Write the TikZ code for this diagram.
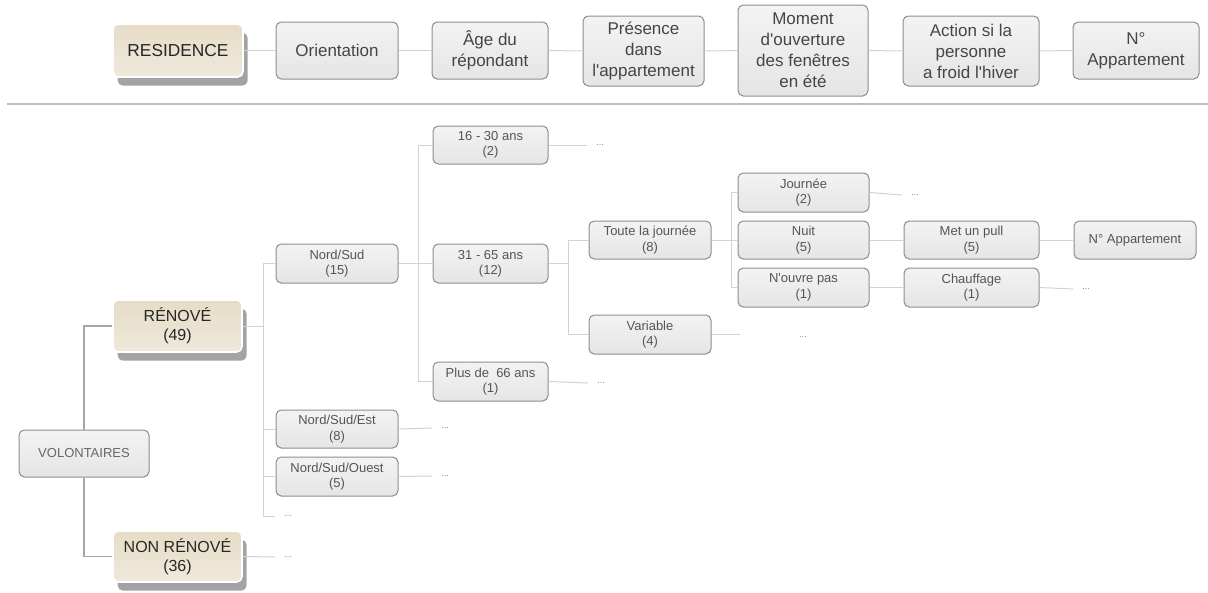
\documentclass[tikz,border=0pt]{standalone}
\usepackage{fontspec}
\setmainfont{Liberation Sans}[Ligatures=TeXOff]
\usetikzlibrary{shadows}
\definecolor{bord}{HTML}{8E8E8E}
\definecolor{gtop}{HTML}{F3F3F3}
\definecolor{gbot}{HTML}{E5E5E5}
\definecolor{btop}{HTML}{E6DCC6}
\definecolor{bbot}{HTML}{EFE9DC}
\definecolor{txtlow}{HTML}{555555}
\definecolor{txttop}{HTML}{454545}
\definecolor{conn}{HTML}{D2D2D2}
\definecolor{connd}{HTML}{A6A6A6}
\definecolor{rule}{HTML}{BDBDBD}
\definecolor{dotc}{HTML}{8A8A8A}
\tikzset{
  sz/.style 2 args={minimum width=#1*0.75pt, minimum height=#2*0.75pt},
  box/.style={rounded corners=4pt, draw=bord, line width=0.75pt, top color=gtop, bottom color=gbot,
    align=center, inner sep=0pt, text=txtlow, font=\fontsize{9.75}{11.5}\selectfont},
  topbox/.style={box, text=txttop, font=\fontsize{12.75}{15.75}\selectfont},
  beige/.style={rounded corners=4pt, draw=white, line width=1.2pt, top color=btop, bottom color=bbot,
    drop shadow={shadow xshift=3.5pt, shadow yshift=-6.5pt, fill=black!45, opacity=0.8},
    align=center, inner sep=0pt, text=black!85},
  dots/.style={inner xsep=6.75pt, inner ysep=0pt, text=dotc, font=\fontsize{7}{8}\selectfont},
  cn/.style={draw=conn, line width=0.75pt},
  cnd/.style={draw=connd, line width=1.1pt}
}
\begin{document}
\begin{tikzpicture}[x=0.75pt,y=-0.75pt]
\useasboundingbox (0,0) rectangle (1208,593);

% ---------- header ----------
\node[beige, sz={130}{53}, font=\fontsize{13}{16}\selectfont] (res) at (178,50.5) {RESIDENCE};
\node[topbox, sz={122}{57}] (ori) at (337,50.5) {Orientation};
\node[topbox, sz={116}{57}] (age) at (490,50.5) {Âge du\\répondant};
\node[topbox, sz={121}{70}] (pres) at (643.5,51) {Présence\\dans\\l'appartement};
\node[topbox, sz={130}{91}] (mom) at (803,50.5) {Moment\\d'ouverture\\des fenêtres\\en été};
\node[topbox, sz={136}{70}] (act) at (971,51) {Action si la\\personne\\a froid l'hiver};
\node[topbox, sz={126}{57}] (napp) at (1136,50.5) {N°\\Appartement};
\draw[cn] (res.east) -- (ori.west);
\draw[cn] (ori.east) -- (age.west);
\draw[cn] (age.east) -- (pres.west);
\draw[cn] (pres.east) -- (mom.west);
\draw[cn] (mom.east) -- (act.west);
\draw[cn] (act.east) -- (napp.west);
\draw[draw=rule, line width=0.9pt] (7,104) -- (1208,104);

% ---------- tree ----------
\node[box, sz={130}{47}, text=black!60] (vol) at (84,453.5) {VOLONTAIRES};
\node[beige, sz={129}{52}, font=\fontsize{12}{14.25}\selectfont] (ren) at (177.5,326) {RÉNOVÉ\\(49)};
\node[beige, sz={129}{51}, font=\fontsize{12}{14.25}\selectfont] (nren) at (177.5,556.5) {NON RÉNOVÉ\\(36)};

\node[box, sz={122}{39}] (ns) at (337,263.5) {Nord/Sud\\(15)};
\node[box, sz={122}{38}] (nse) at (337,429) {Nord/Sud/Est\\(8)};
\node[box, sz={122}{39}] (nso) at (337,476.5) {Nord/Sud/Ouest\\(5)};
\node[dots, anchor=west] (dA) at (275,516) {...};
\node[dots, anchor=west] (dB) at (275,557) {...};

\node[box, sz={115}{38}] (a1) at (490.5,145) {16 - 30 ans\\(2)};
\node[box, sz={115}{39}] (a2) at (490.5,263.5) {31 - 65 ans\\(12)};
\node[box, sz={115}{39}] (a3) at (490.5,381.5) {Plus de~ 66 ans\\(1)};
\node[dots, anchor=west] (d1) at (587,145) {...};
\node[dots, anchor=west] (d3) at (588,383) {...};
\node[dots, anchor=west] (dE) at (432,428) {...};
\node[dots, anchor=west] (dO) at (432,476) {...};

\node[box, sz={122}{38}] (tj) at (650,240) {Toute la journée\\(8)};
\node[box, sz={122}{39}] (var) at (650,334.5) {Variable\\(4)};
\coordinate (varend) at (740,334.5);
\node[dots] (dV) at (803,337) {...};

\node[box, sz={131}{39}] (jour) at (803.5,192.5) {Journée\\(2)};
\node[box, sz={131}{38}] (nuit) at (803.5,240) {Nuit\\(5)};
\node[box, sz={131}{39}] (nouv) at (803.5,287.5) {N'ouvre pas\\(1)};
\node[dots, anchor=west] (dJ) at (902,195) {...};

\node[box, sz={135}{38}] (pull) at (971.5,240) {Met un pull\\(5)};
\node[box, sz={135}{39}] (chf) at (971.5,287.5) {Chauffage\\(1)};
\node[box, sz={122}{38}] (napp2) at (1135,240) {N° Appartement};
\node[dots, anchor=west] (dC) at (1073,289) {...};

% bus coordinates
\coordinate (b1) at (263,326);
\coordinate (b2) at (418,263.5);
\coordinate (b3) at (568,263.5);
\coordinate (b4) at (731,240);

% left elbows
\draw[cnd] (vol.north) |- (ren.west);
\draw[cnd] (vol.south) |- (nren.west);

\draw[cn] (ren.east) -- (b1);
\draw[cn] (b1) |- (ns.west);
\draw[cn] (b1) |- (nse.west);
\draw[cn] (b1) |- (nso.west);
\draw[cn] (b1) |- (dA.west);
\draw[cn] (nren.east) -- (dB.west);

\draw[cn] (ns.east) -- (b2);
\draw[cn] (b2) |- (a1.west);
\draw[cn] (b2) |- (a3.west);
\draw[cn] (b2) -- (a2.west);
\draw[cn] (a1.east) -- (d1.west);
\draw[cn] (a3.east) -- (d3.west);
\draw[cn] (nse.east) -- (dE.west);
\draw[cn] (nso.east) -- (dO.west);

\draw[cn] (a2.east) -- (b3);
\draw[cn] (b3) |- (tj.west);
\draw[cn] (b3) |- (var.west);
\draw[cn] (var.east) -- (varend);

\draw[cn] (tj.east) -- (b4);
\draw[cn] (b4) |- (jour.west);
\draw[cn] (b4) |- (nouv.west);
\draw[cn] (b4) -- (nuit.west);
\draw[cn] (jour.east) -- (dJ.west);
\draw[cn] (nuit.east) -- (pull.west);
\draw[cn] (nouv.east) -- (chf.west);
\draw[cn] (pull.east) -- (napp2.west);
\draw[cn] (chf.east) -- (dC.west);
\end{tikzpicture}
\end{document}
